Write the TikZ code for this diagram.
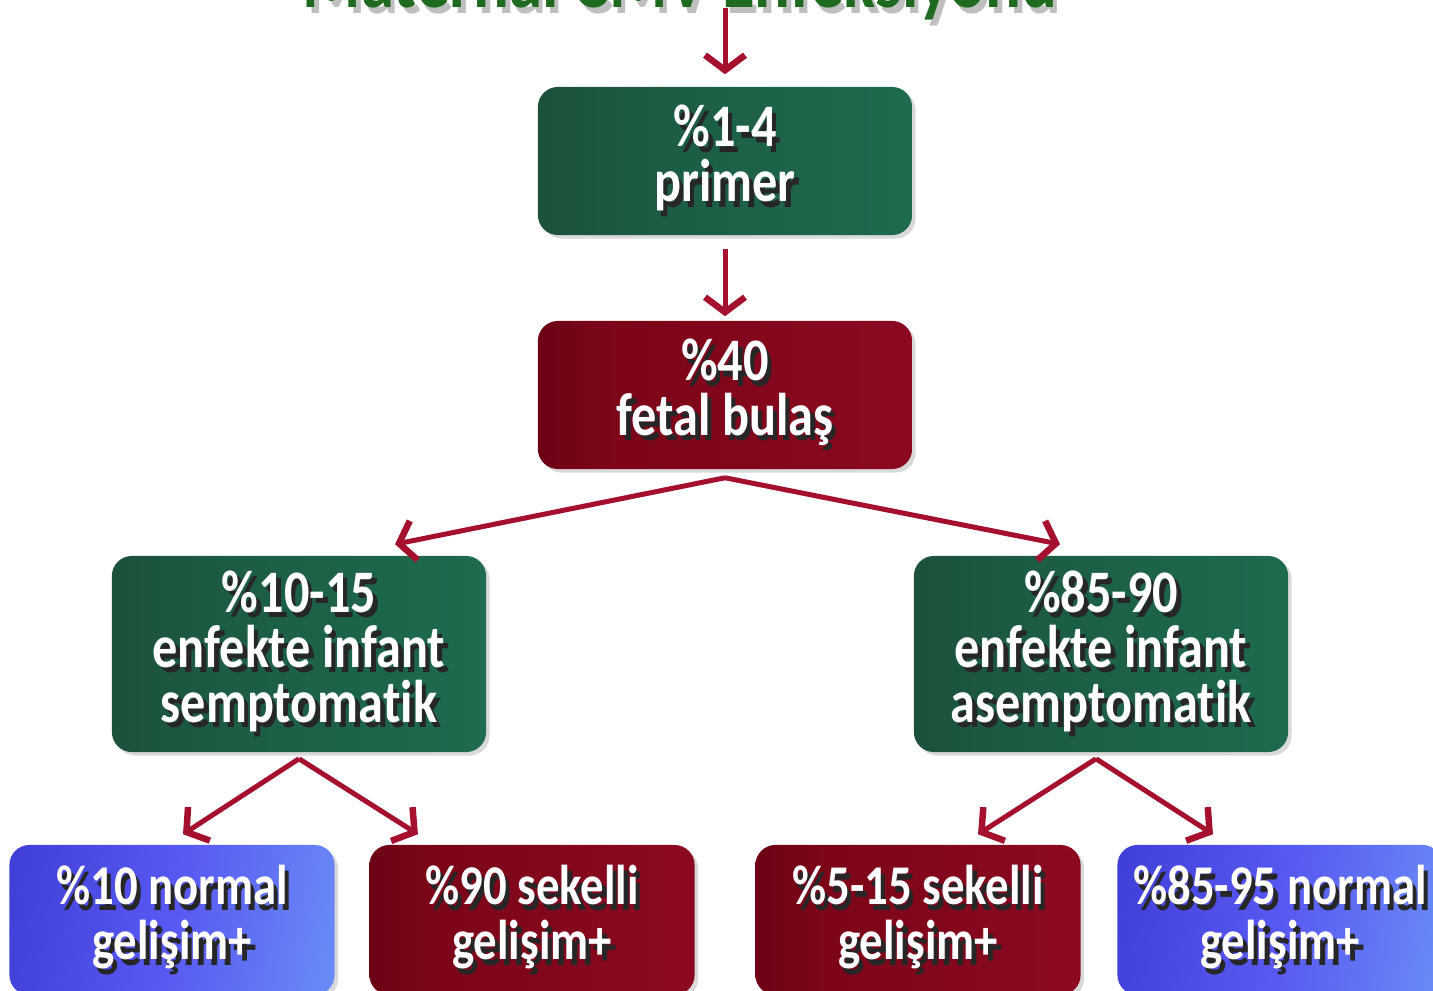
\documentclass[tikz,border=0pt]{standalone}
\usepackage{fontspec}
\setmainfont[Ligatures=CommonOff]{Carlito}
\usepackage{graphicx}
\usetikzlibrary{arrows.meta,shadows}

\definecolor{arrC}{HTML}{A5102E}
\definecolor{ttlG}{HTML}{1E6A1E}
\definecolor{gA}{HTML}{15261B}\definecolor{gB}{HTML}{1B4431}\definecolor{gC}{HTML}{1C5C42}
\definecolor{gD}{HTML}{1E6E50}\definecolor{gE}{HTML}{2A8A68}\definecolor{gF}{HTML}{70C2A2}
\definecolor{rA}{HTML}{2A0007}\definecolor{rB}{HTML}{52000F}\definecolor{rC}{HTML}{7C0518}
\definecolor{rD}{HTML}{8E0A22}\definecolor{rE}{HTML}{A81A36}\definecolor{rF}{HTML}{D8808E}
\definecolor{bA}{HTML}{1A1A7A}\definecolor{bB}{HTML}{3434CC}\definecolor{bC}{HTML}{5858F2}
\definecolor{bD}{HTML}{6C98F6}\definecolor{bE}{HTML}{62DCF2}
\pgfdeclarehorizontalshading{grnsh}{100bp}{color(0bp)=(gA); color(8bp)=(gB); color(40bp)=(gC); color(82bp)=(gD); color(94bp)=(gE); color(100bp)=(gF)}
\pgfdeclarehorizontalshading{rdsh}{100bp}{color(0bp)=(rA); color(8bp)=(rB); color(35bp)=(rC); color(82bp)=(rD); color(94bp)=(rE); color(100bp)=(rF)}
\pgfdeclarehorizontalshading{blush}{100bp}{color(0bp)=(bA); color(8bp)=(bB); color(50bp)=(bC); color(85bp)=(bD); color(100bp)=(bE)}

% white text with a dark drop shadow, a bit taller than wide
\newcommand\sh[2][black!85]{\scalebox{1}[1.2]{\rlap{\hspace{1.3pt}\raisebox{-1.3pt}{\color{#1}#2}}#2}}

\begin{document}
\begin{tikzpicture}[x=0.01cm,y=-0.01cm,font=\bfseries\fontsize{14.3}{15.6}\selectfont,
 >={Straight Barb[length=1.5mm,width=4mm,line width=0.065cm]},
 box/.style={rounded corners=0.2cm,minimum width=3.74cm,minimum height=1.48cm,align=center,text=white,
   drop shadow={shadow xshift=1pt,shadow yshift=-1pt,opacity=.3}},
 grn/.style={shading=grnsh},
 rd/.style={shading=rdsh},
 blu/.style={shading=blush,shading angle=-10},
 low/.style={minimum width=3.25cm,minimum height=1.5cm,font=\bfseries\fontsize{13.3}{15.6}\selectfont},
 arr/.style={->,line width=0.05cm,draw=arrC}]
\useasboundingbox (0,0) rectangle (1433,991);
\clip (0,0) rectangle (1433,991);
\node[font=\bfseries\fontsize{19}{22}\selectfont,text=ttlG,anchor=base] (ttl) at (680,8) {\sh[black!25]{Maternal CMV Enfeksiyonu}};
\node[box,grn] (b1) at (725,161) {\sh{\%1-4}\\\sh{primer}};
\node[box,rd] (b2) at (725,395) {\sh{\%40}\\\sh{fetal bulaş}};
\node[box,grn,minimum height=1.96cm] (b3) at (299,654) {\sh{\%10-15}\\\sh{enfekte infant}\\\sh{semptomatik}};
\node[box,grn,minimum height=1.96cm] (b4) at (1101,654) {\sh{\%85-90}\\\sh{enfekte infant}\\\sh{asemptomatik}};
\node[box,low,blu] (b5) at (172,920) {\sh{\%10 normal}\\\sh{gelişim+}};
\node[box,low,rd] (b6) at (532,920) {\sh{\%90 sekelli}\\\sh{gelişim+}};
\node[box,low,rd] (b7) at (918,920) {\sh{\%5-15 sekelli}\\\sh{gelişim+}};
\node[box,low,blu] (b8) at (1280,920) {\sh{\%85-95 normal}\\\sh{gelişim+}};
\draw[arr] (ttl.base -| b1.north) -- ([yshift=0.12cm]b1.north);
\draw[arr] ([yshift=-0.13cm]b1.south) -- ([yshift=0.04cm]b2.north);
\coordinate (s2) at ([yshift=-0.08cm]b2.south);
\draw[arr] (s2) -- ([xshift=0.96cm,yshift=0.11cm]b3.north);
\draw[arr] (s2) -- ([xshift=-0.41cm,yshift=0.11cm]b4.north);
\coordinate (s3) at ([yshift=-0.06cm]b3.south);
\draw[arr] (s3) -- ([xshift=0.11cm,yshift=0.1cm]b5.north);
\draw[arr] (s3) -- ([xshift=-1.14cm,yshift=0.1cm]b6.north);
\coordinate (s4) at ([xshift=-0.05cm,yshift=-0.06cm]b4.south);
\draw[arr] (s4) -- ([xshift=0.6cm,yshift=0.1cm]b7.north);
\draw[arr] (s4) -- ([xshift=-0.67cm,yshift=0.1cm]b8.north);
\end{tikzpicture}
\end{document}
